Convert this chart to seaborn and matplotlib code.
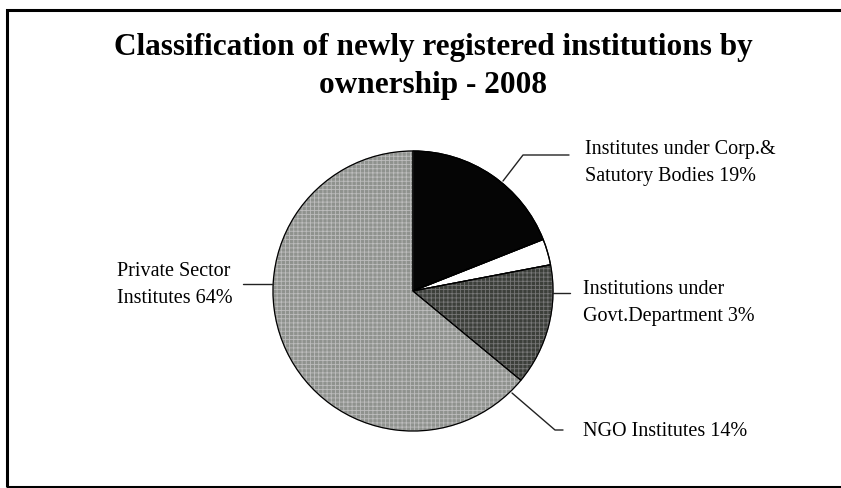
import matplotlib.pyplot as plt
import seaborn as sns
from matplotlib.patches import Rectangle

# Data
categories = ['Institutes under Corp.&\nSatutory Bodies', 'Institutions under\nGovt.Department',
              'NGO Institutes', 'Private Sector\nInstitutes']
shares = [19, 3, 14, 64]
labels = ['Institutes under Corp.&\nSatutory Bodies 19%', 'Institutions under\nGovt.Department 3%',
          'NGO Institutes 14%', 'Private Sector\nInstitutes 64%']
slice_colors = ['#050505', '#ffffff', '#3c3f3a', '#8f928e']
hatch_colors = [None, None, '#777777', '#bdbdbd']

sns.set_theme(style='white')
plt.rcParams['font.family'] = ['Liberation Serif', 'DejaVu Serif']
plt.rcParams['text.color'] = 'black'
plt.rcParams['hatch.linewidth'] = 0.6

W, H = 841, 488
fig = plt.figure(figsize=(W / 100, H / 100), dpi=100)

# outer frame
fig.patches.append(Rectangle((7 / W, 1 / H), 1.0, (478 - 1) / H, transform=fig.transFigure,
                             fill=False, edgecolor='black', linewidth=2.2))

fig.text(433 / W, 1 - 47 / H, 'Classification of newly registered institutions by',
         ha='center', va='center', fontsize=22.5, fontweight='bold')
fig.text(433 / W, 1 - 85 / H, 'ownership - 2008',
         ha='center', va='center', fontsize=22.5, fontweight='bold')

# pie axes: centre (413, 291) px, radius 140 px
cx, cy, r = 413, 291, 140
ax = fig.add_axes([(cx - r) / W, 1 - (cy + r) / H, 2 * r / W, 2 * r / H])
wedges, _ = ax.pie(shares, colors=slice_colors, startangle=90, counterclock=False, radius=1,
                   wedgeprops=dict(edgecolor='black', linewidth=0.9))
for w, hc in zip(wedges, hatch_colors):
    if hc:
        w.set_hatch('++++')
        w.set_edgecolor(hc)
# black outlines on top
ax.pie(shares, colors=['none'] * len(shares), startangle=90, counterclock=False, radius=1,
       wedgeprops=dict(edgecolor='black', linewidth=0.9, fill=False))
ax.set_xlim(-1, 1)
ax.set_ylim(-1, 1)
ax.set_aspect('equal')
ax.axis('off')


def px(x, y):
    return ((x - cx) / r, (cy - y) / r)


line_kw = dict(color='#222222', linewidth=1.0, clip_on=False)
text_kw = dict(fontsize=14.5, va='center', linespacing=1.6, annotation_clip=False)

# Corp label
a, b, c = px(503, 181), px(523, 155), px(569, 155)
ax.plot([a[0], b[0], c[0]], [a[1], b[1], c[1]], **line_kw)
ax.annotate(labels[0], xy=px(585, 163), ha='left', **text_kw)
# Govt label
a, b = px(553, 293), px(570, 293)
ax.plot([a[0], b[0]], [a[1], b[1]], **line_kw)
ax.annotate(labels[1], xy=px(583, 303), ha='left', **text_kw)
# NGO label
a, b, c = px(512, 393), px(555, 430), px(563, 430)
ax.plot([a[0], b[0], c[0]], [a[1], b[1], c[1]], **line_kw)
ax.annotate(labels[2], xy=px(583, 431), ha='left', **text_kw)
# Private label
a, b = px(243, 284), px(273, 284)
ax.plot([a[0], b[0]], [a[1], b[1]], **line_kw)
ax.annotate(labels[3], xy=px(117, 285), ha='left', **text_kw)

fig.savefig('out.png', dpi=100)
